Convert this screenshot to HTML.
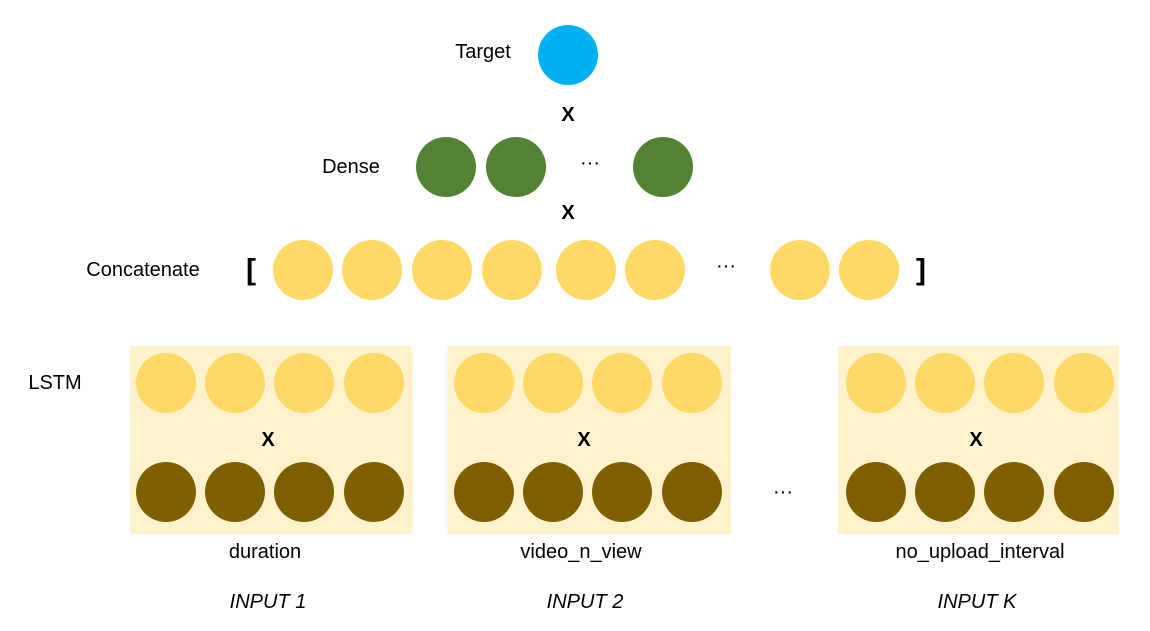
<!DOCTYPE html>
<html><head><meta charset="utf-8"><style>
html,body{margin:0;padding:0;background:#fff;}
svg{display:block;font-family:"Liberation Sans","Noto Sans CJK KR",sans-serif;}
</style></head><body>
<svg width="1150" height="631" viewBox="0 0 1150 631">
<g font-size="20" fill="#000" text-anchor="middle" dominant-baseline="central">
  <text x="483" y="52">Target</text>
  <circle cx="568" cy="55" r="30" fill="#00b0f0"/>
  <text x="568" y="115" font-weight="bold">X</text>

  <text x="351" y="167">Dense</text>
  <circle cx="446" cy="167" r="30" fill="#548235"/>
  <circle cx="516" cy="167" r="30" fill="#548235"/>
  <text x="590" y="163">···</text>
  <circle cx="663" cy="167" r="30" fill="#548235"/>
  <text x="568" y="213" font-weight="bold">X</text>

  <text x="143" y="270">Concatenate</text>
  <text x="251" y="270" font-size="30" font-weight="bold">[</text>
  <g fill="#ffd966">
    <circle cx="303" cy="270" r="30"/>
    <circle cx="372" cy="270" r="30"/>
    <circle cx="442" cy="270" r="30"/>
    <circle cx="512" cy="270" r="30"/>
    <circle cx="586" cy="270" r="30"/>
    <circle cx="655" cy="270" r="30"/>
    <circle cx="800" cy="270" r="30"/>
    <circle cx="869" cy="270" r="30"/>
  </g>
  <text x="726" y="266">···</text>
  <text x="921" y="270" font-size="30" font-weight="bold">]</text>

  <text x="55" y="383">LSTM</text>

  <g>
    <rect x="130" y="346" width="283" height="188" fill="#fff2cc"/>
    <g fill="#ffd966"><circle cx="166" cy="383" r="30"/><circle cx="235" cy="383" r="30"/><circle cx="304" cy="383" r="30"/><circle cx="374" cy="383" r="30"/></g>
    <text x="268" y="440" font-weight="bold">X</text>
    <g fill="#7f6000"><circle cx="166" cy="492" r="30"/><circle cx="235" cy="492" r="30"/><circle cx="304" cy="492" r="30"/><circle cx="374" cy="492" r="30"/></g>
  </g>
  <g>
    <rect x="447" y="346" width="284" height="188" fill="#fff2cc"/>
    <g fill="#ffd966"><circle cx="484" cy="383" r="30"/><circle cx="553" cy="383" r="30"/><circle cx="622" cy="383" r="30"/><circle cx="692" cy="383" r="30"/></g>
    <text x="584" y="440" font-weight="bold">X</text>
    <g fill="#7f6000"><circle cx="484" cy="492" r="30"/><circle cx="553" cy="492" r="30"/><circle cx="622" cy="492" r="30"/><circle cx="692" cy="492" r="30"/></g>
  </g>
  <text x="783" y="492">···</text>
  <g>
    <rect x="838" y="346" width="281" height="188" fill="#fff2cc"/>
    <g fill="#ffd966"><circle cx="876" cy="383" r="30"/><circle cx="945" cy="383" r="30"/><circle cx="1014" cy="383" r="30"/><circle cx="1084" cy="383" r="30"/></g>
    <text x="976" y="440" font-weight="bold">X</text>
    <g fill="#7f6000"><circle cx="876" cy="492" r="30"/><circle cx="945" cy="492" r="30"/><circle cx="1014" cy="492" r="30"/><circle cx="1084" cy="492" r="30"/></g>
  </g>

  <text x="265" y="552">duration</text>
  <text x="581" y="552">video_n_view</text>
  <text x="980" y="552">no_upload_interval</text>

  <text x="268" y="602" font-style="italic">INPUT 1</text>
  <text x="585" y="602" font-style="italic">INPUT 2</text>
  <text x="977" y="602" font-style="italic">INPUT K</text>
</g>
</svg>
</body></html>
